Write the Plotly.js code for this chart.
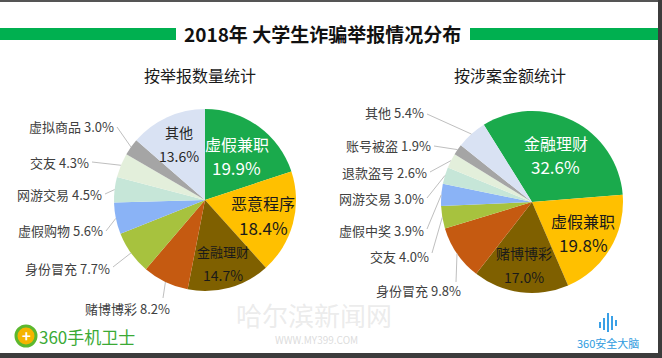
<!DOCTYPE html>
<html>
<head>
<meta charset="utf-8">
<script src="https://cdn.plot.ly/plotly-3.0.1.min.js"></script>
<style>html,body{margin:0;padding:0;background:#fff;}#chart{width:662px;height:358px;}</style>
</head>
<body>
<div id="chart"></div>
<script>
// ---- data ----
const chartTitle = '2018年 大学生诈骗举报情况分布';
const leftTitle = '按举报数量统计';
const rightTitle = '按涉案金额统计';
const leftLabels = ['虚假兼职','恶意程序','金融理财','赌博博彩','身份冒充','虚假购物','网游交易','交友','虚拟商品','其他'];
const leftValues = [19.9, 18.4, 14.7, 8.2, 7.7, 5.6, 4.5, 4.3, 3.0, 13.6];
const rightLabels = ['金融理财','虚假兼职','赌博博彩','身份冒充','交友','虚假中奖','网游交易','退款盗号','账号被盗','其他'];
const rightValues = [32.6, 19.8, 17.0, 9.8, 4.0, 3.9, 3.0, 2.6, 1.9, 5.4];

// ---- styles / layout ----
const W = 662, H = 358;
const FONT = '"Noto Sans CJK SC", "Noto Sans", sans-serif';
const sliceColors = ['#1AAA4C','#FFC000','#7F6000','#C55A11','#A7C23E','#8AB3F6','#C6E6D8','#E3EFDB','#A5A5A5','#D9E2F3'];
const GREEN = '#00B050';

const leftPie = {cx: 205, cy: 200, r: 91, rotation: 0};
const rightPie = {cx: 532, cy: 202, r: 91, rotation: -32};

// inside labels: [slice index, radial factor, name size, value size, color]
const leftInside = [[0,0.60,16,17,'#ffffff'],[1,0.66,16,17,'#1a1a1a'],[2,0.72,13,14,'#1a1a1a'],[9,0.68,14,14,'#262626']];
const rightInside = [[0,0.58,16,17,'#ffffff'],[1,0.66,16,17,'#1a1a1a'],[2,0.70,14,14,'#1a1a1a']];
// outside labels: [slice index, text x, text y, xanchor, line start x, line start y]
const leftOutside = [[8,115,126,'right',117,127],[7,90,162,'right',92,162],[6,103,194,'right',105,194],
                     [5,104,231,'right',106,231],[4,111,268,'right',113,267],[3,127,308,'center',163,298]];
const rightOutside = [[9,425,113,'right',427,114],[8,432,145,'right',434,146],[7,428,172,'right',430,172],
                      [6,425,198,'right',427,198],[5,425,230,'right',427,229],[4,430,256,'right',432,253],
                      [3,418,290,'center',456,282]];

const px = v => v / W, py = v => 1 - v / H;

function midDir(values, idx, rot) {
  const tot = values.reduce((a, b) => a + b, 0);
  let cum = 0; for (let i = 0; i < idx; i++) cum += values[i];
  const ang = (rot + (cum + values[idx] / 2) / tot * 360) * Math.PI / 180;
  return [Math.sin(ang), -Math.cos(ang)];
}

function pieTrace(labels, values, geo) {
  return {
    type: 'pie', labels: labels, values: values, sort: false, direction: 'clockwise',
    rotation: geo.rotation, textinfo: 'none', hoverinfo: 'none', showlegend: false,
    marker: {colors: sliceColors, line: {width: 0}},
    domain: {x: [px(geo.cx - geo.r), px(geo.cx + geo.r)], y: [py(geo.cy + geo.r), py(geo.cy - geo.r)]}
  };
}

const annotations = [];
const shapes = [];
function txt(t, x, y, size, color, xanchor, weight) {
  annotations.push({text: t, x: px(x), y: py(y), xref: 'paper', yref: 'paper', showarrow: false,
    xanchor: xanchor || 'center', yanchor: 'middle', borderpad: 0,
    font: {family: FONT, size: size, color: color, weight: weight || 'normal'}});
}

function addLabels(labels, values, geo, inside, outside) {
  inside.forEach(([i, k, s1, s2, c]) => {
    const d = midDir(values, i, geo.rotation);
    const x = geo.cx + d[0] * geo.r * k, y = geo.cy + d[1] * geo.r * k;
    txt(labels[i], x, y - 12, s1, c);
    txt(values[i].toFixed(1) + '%', x, y + 12, s2, c);
  });
  outside.forEach(([i, tx, ty, xa, lx, ly]) => {
    const d = midDir(values, i, geo.rotation);
    const ex = geo.cx + d[0] * geo.r, ey = geo.cy + d[1] * geo.r;
    shapes.push({type: 'line', xref: 'paper', yref: 'paper', x0: px(lx), y0: py(ly), x1: px(ex), y1: py(ey),
      line: {color: '#BFBFBF', width: 1}});
    txt(labels[i] + ' ' + values[i].toFixed(1) + '%', tx, ty, 13, '#404040', xa);
  });
}

// watermark (drawn first, behind other texts)
txt('哈尔滨新闻网', 314, 314, 26, 'rgba(205,205,205,0.4)');
txt('WWW.MY399.COM', 316, 339, 10, 'rgba(190,190,190,0.55)');

addLabels(leftLabels, leftValues, leftPie, leftInside, leftOutside);
addLabels(rightLabels, rightValues, rightPie, rightInside, rightOutside);

// title and subtitles
shapes.push({type: 'rect', xref: 'paper', yref: 'paper', x0: 0, x1: px(176), y0: py(40), y1: py(28), fillcolor: GREEN, line: {width: 0}, layer: 'below'});
shapes.push({type: 'rect', xref: 'paper', yref: 'paper', x0: px(470), x1: 1, y0: py(40), y1: py(28), fillcolor: GREEN, line: {width: 0}, layer: 'below'});
txt(chartTitle, 322, 33, 19, '#111111', 'center', 'bold');
txt(leftTitle, 200, 75, 16, '#1a1a1a');
txt(rightTitle, 510, 75, 16, '#1a1a1a');

// logos
shapes.push({type: 'circle', xref: 'paper', yref: 'paper', x0: px(16), x1: px(36), y0: py(346), y1: py(326), fillcolor: '#F5B400', line: {color: '#5DB82E', width: 3}});
txt('+', 26, 335, 15, '#ffffff', 'center', 'bold');
txt('360手机卫士', 38, 336, 17, '#3BAA35', 'left');
txt('360安全大脑', 608, 343, 11, '#2E9BE0', 'center');
[[600,322,328],[604,318,330],[608,313,332],[612,316,330],[616,320,326]].forEach(([x, y0, y1]) => {
  shapes.push({type: 'line', xref: 'paper', yref: 'paper', x0: px(x), x1: px(x), y0: py(y0), y1: py(y1), line: {color: '#3AA0E6', width: 2}});
});

// frame
shapes.push({type: 'rect', xref: 'paper', yref: 'paper', x0: 0, x1: 1, y0: py(2), y1: 1, fillcolor: '#555555', line: {width: 0}});
shapes.push({type: 'rect', xref: 'paper', yref: 'paper', x0: 0, x1: 1, y0: 0, y1: py(353), fillcolor: '#3C3C3C', line: {width: 0}});
shapes.push({type: 'rect', xref: 'paper', yref: 'paper', x0: px(658), x1: 1, y0: 0, y1: 1, fillcolor: '#3C3C3C', line: {width: 0}});

const data = [pieTrace(leftLabels, leftValues, leftPie), pieTrace(rightLabels, rightValues, rightPie)];
const layout = {
  width: W, height: H, margin: {l: 0, r: 0, t: 0, b: 0},
  paper_bgcolor: '#ffffff', plot_bgcolor: '#ffffff',
  font: {family: FONT},
  annotations: annotations, shapes: shapes, showlegend: false
};
Plotly.newPlot('chart', data, layout, {displayModeBar: false, staticPlot: true});
</script>
</body>
</html>
